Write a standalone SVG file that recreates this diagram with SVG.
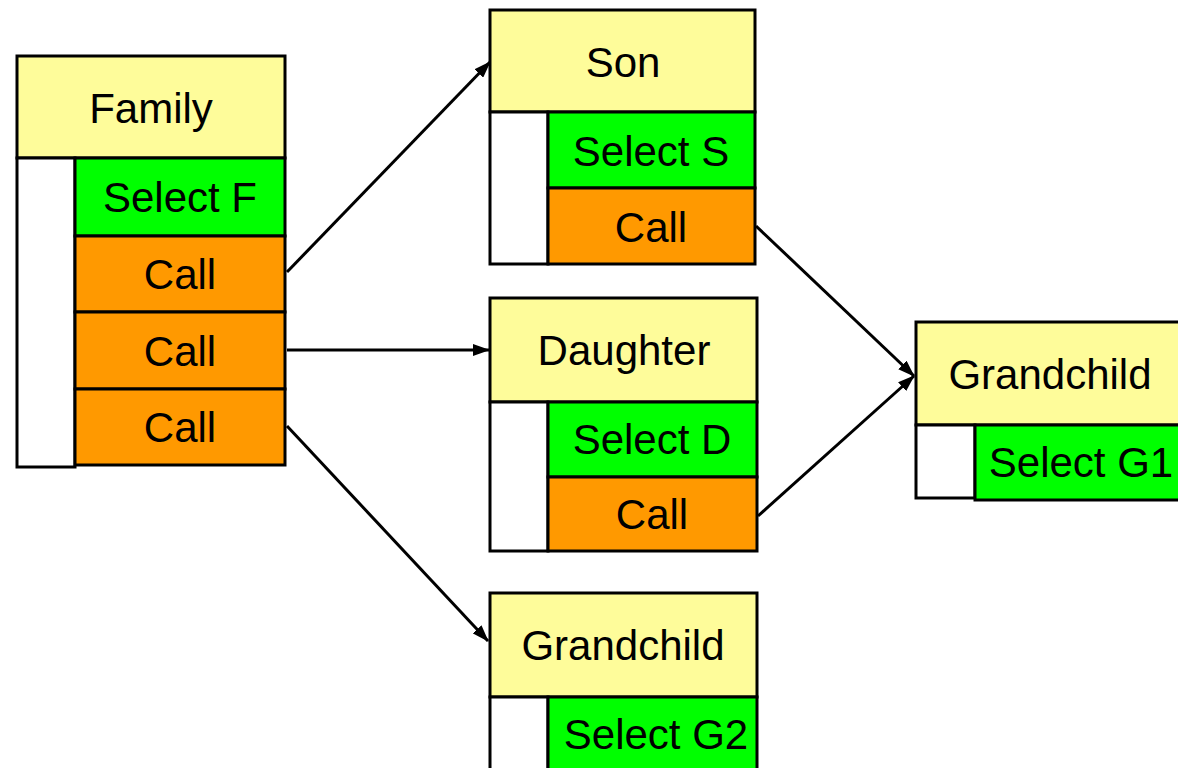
<svg xmlns="http://www.w3.org/2000/svg" width="1178" height="768" viewBox="0 0 1178 768">
  <style>
    .hdr { fill: #FEFC9A; stroke: #000; stroke-width: 3; }
    .col { fill: #FFFFFF; stroke: #000; stroke-width: 3; }
    .sel { fill: #00FF00; stroke: #000; stroke-width: 3; }
    .call { fill: #FF9900; stroke: #000; stroke-width: 3; }
    .lbl { font-family: "Liberation Sans", Arial, sans-serif; font-size: 42px; fill: #000; text-anchor: middle; }
    .conn { stroke: #000; stroke-width: 3; fill: none; marker-end: url(#arrow); }
  </style>
  <defs>
    <marker id="arrow" markerUnits="userSpaceOnUse" markerWidth="17" markerHeight="12" refX="16" refY="6" orient="auto">
      <path d="M0,0 L17,6 L0,12 z" fill="#000"/>
    </marker>
  </defs>
  <rect width="1178" height="768" fill="#FFFFFF"/>

  <!-- Family -->
  <g id="family">
    <rect class="hdr" x="17" y="56" width="268" height="102"/>
    <rect class="col" x="17" y="158" width="58" height="309"/>
    <rect class="sel" x="75" y="158" width="210" height="78"/>
    <rect class="call" x="75" y="236" width="210" height="76"/>
    <rect class="call" x="75" y="312" width="210" height="77"/>
    <rect class="call" x="75" y="389" width="210" height="76"/>
    <text class="lbl" x="151" y="123">Family</text>
    <text class="lbl" x="180" y="212">Select F</text>
    <text class="lbl" x="180" y="289">Call</text>
    <text class="lbl" x="180" y="366">Call</text>
    <text class="lbl" x="180" y="442">Call</text>
  </g>

  <!-- Son -->
  <g id="son">
    <rect class="hdr" x="490" y="10" width="265" height="102"/>
    <rect class="col" x="490" y="112" width="58" height="152"/>
    <rect class="sel" x="548" y="112" width="207" height="76"/>
    <rect class="call" x="548" y="188" width="207" height="76"/>
    <text class="lbl" x="623" y="77">Son</text>
    <text class="lbl" x="651" y="166">Select S</text>
    <text class="lbl" x="651" y="242">Call</text>
  </g>

  <!-- Daughter -->
  <g id="daughter">
    <rect class="hdr" x="490" y="298" width="267" height="104"/>
    <rect class="col" x="490" y="402" width="58" height="149"/>
    <rect class="sel" x="548" y="402" width="209" height="75"/>
    <rect class="call" x="548" y="477" width="209" height="74"/>
    <text class="lbl" x="624" y="365">Daughter</text>
    <text class="lbl" x="652" y="454">Select D</text>
    <text class="lbl" x="652" y="529">Call</text>
  </g>

  <!-- Grandchild (right) -->
  <g id="grandchild-g1">
    <rect class="hdr" x="916" y="322" width="266" height="103"/>
    <rect class="col" x="916" y="425" width="59" height="73"/>
    <rect class="sel" x="975" y="425" width="207" height="75"/>
    <text class="lbl" x="1050" y="389">Grandchild</text>
    <text class="lbl" x="1081" y="477">Select G1</text>
  </g>

  <!-- Grandchild (bottom) -->
  <g id="grandchild-g2">
    <rect class="hdr" x="490" y="593" width="267" height="104"/>
    <rect class="col" x="490" y="697" width="58" height="80"/>
    <rect class="sel" x="548" y="697" width="209" height="80"/>
    <text class="lbl" x="623" y="660">Grandchild</text>
    <text class="lbl" x="656" y="749">Select G2</text>
  </g>

  <!-- Connectors -->
  <g id="connectors">
    <line class="conn" x1="287" y1="272" x2="490" y2="62"/>
    <line class="conn" x1="287" y1="350" x2="489" y2="350"/>
    <line class="conn" x1="287" y1="426" x2="488" y2="641"/>
    <line class="conn" x1="756" y1="226" x2="914" y2="376"/>
    <line class="conn" x1="758" y1="516" x2="914" y2="376"/>
  </g>
</svg>
